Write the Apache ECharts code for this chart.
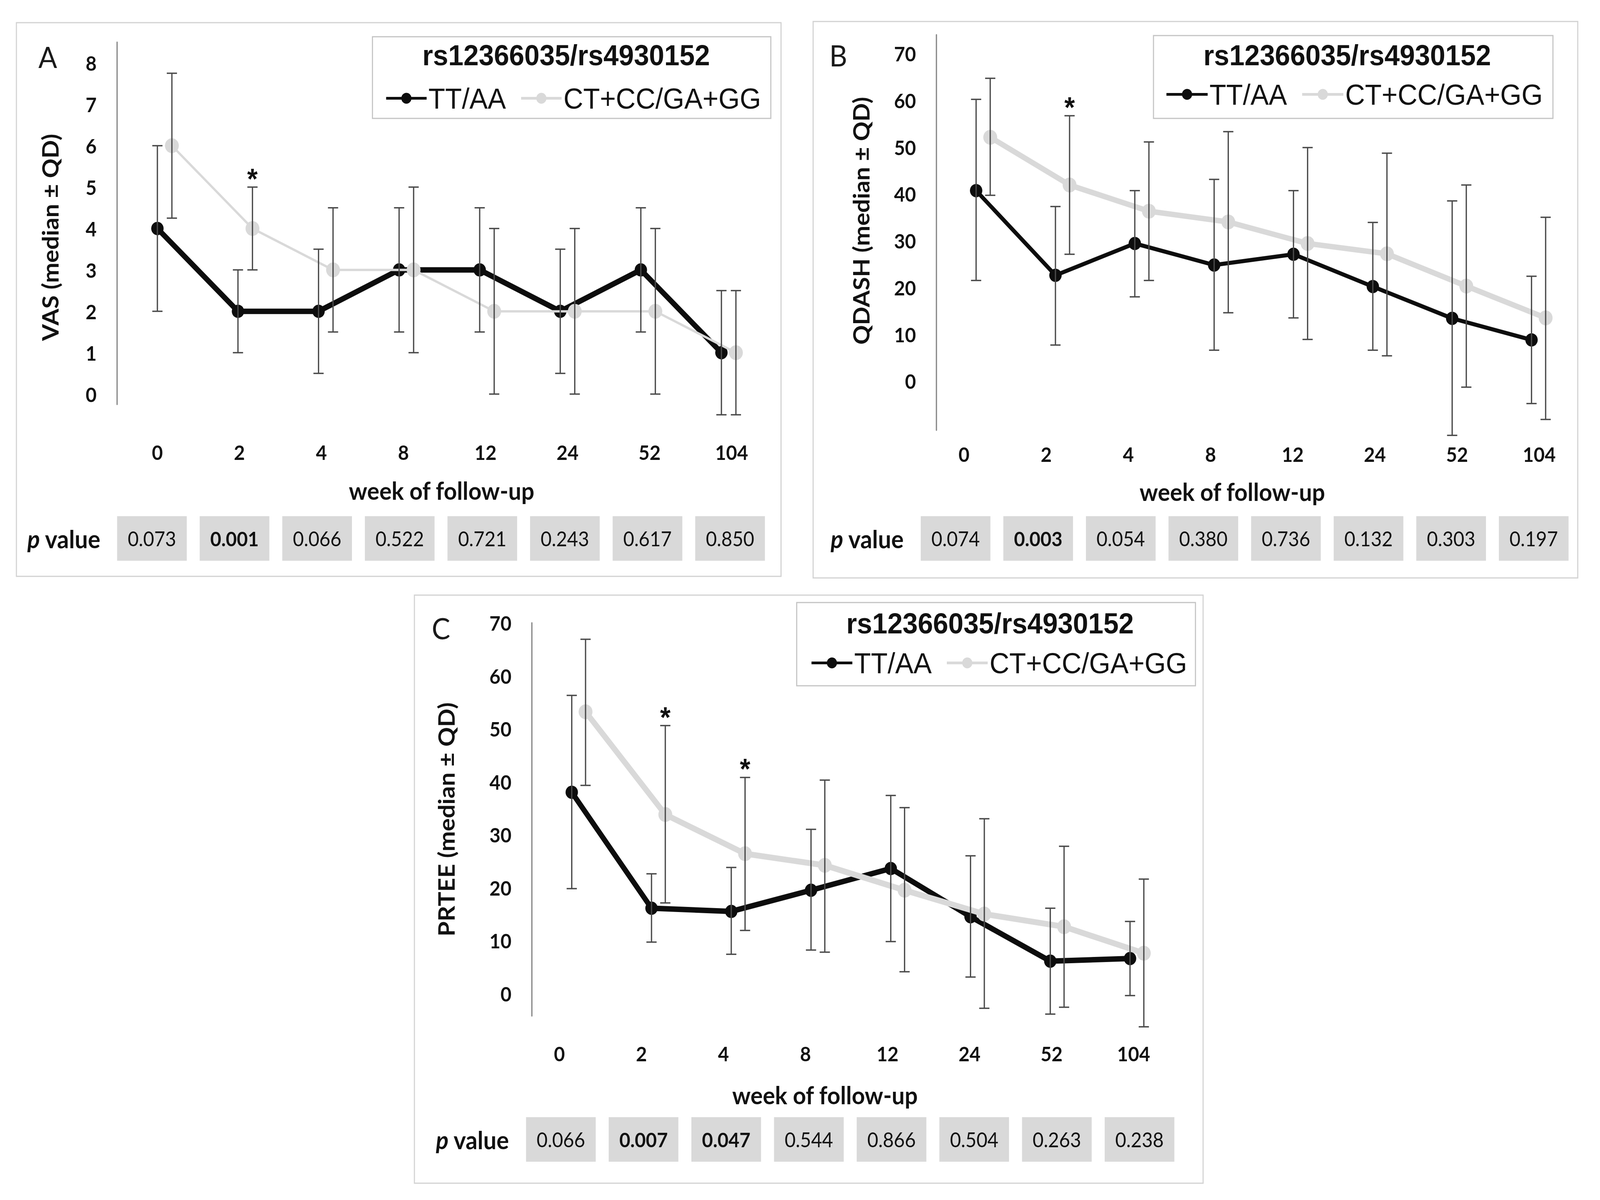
<!DOCTYPE html>
<html>
<head>
<meta charset="utf-8">
<script src="https://cdn.jsdelivr.net/npm/echarts@6/dist/echarts.min.js"></script>
<style>
html,body{margin:0;padding:0;background:#fff;overflow:hidden;}
#chart{width:4386px;height:3071px;transform-origin:0 0;}
</style>
</head>
<body>
<div id="chart"></div>
<script>
// ---------- data ----------
const weeks = ['0','2','4','8','12','24','52','104'];
const seriesNames = ['TT/AA','CT+CC/GA+GG'];
const legendTitle = 'rs12366035/rs4930152';

// A: VAS
const vasTT   = [4, 2, 2, 3, 3, 2, 3, 1];
const vasTTlo = [2, 1, 0.5, 1.5, 1.5, 0.5, 1.5, -0.5];
const vasTThi = [6, 3, 3.5, 4.5, 4.5, 3.5, 4.5, 2.5];
const vasCT   = [6, 4, 3, 3, 2, 2, 2, 1];
const vasCTlo = [4.25, 3, 1.5, 1, 0, 0, 0, -0.5];
const vasCThi = [7.75, 5, 4.5, 5, 4, 4, 4, 2.5];
const vasP    = ['0.073','0.001','0.066','0.522','0.721','0.243','0.617','0.850'];
const vasSig  = [1];
const vasStars = [1];
const vasTicks = [0,1,2,3,4,5,6,7,8];

// B: QDASH
const qdTT   = [40.7, 22.6, 29.4, 24.8, 27.1, 20.2, 13.4, 8.8];
const qdTTlo = [21.5, 7.7, 18.0, 6.6, 13.5, 6.6, -11.6, -4.8];
const qdTThi = [60.2, 37.3, 40.7, 43.1, 40.7, 33.9, 38.5, 22.4];
const qdCT   = [52.1, 41.9, 36.3, 34.0, 29.4, 27.2, 20.3, 13.5];
const qdCTlo = [39.7, 27.1, 21.5, 14.6, 8.9, 5.4, -1.3, -8.2];
const qdCThi = [64.7, 56.7, 51.1, 53.3, 49.9, 48.7, 41.9, 35.0];
const qdP    = ['0.074','0.003','0.054','0.380','0.736','0.132','0.303','0.197'];
const qdSig  = [1];
const qdStars = [1];
const qdTicks = [0,10,20,30,40,50,60,70];

// C: PRTEE
const prTT   = [38.0, 16.1, 15.5, 19.5, 23.6, 14.5, 6.1, 6.6];
const prTTlo = [19.8, 9.7, 7.4, 8.2, 9.8, 3.1, -3.9, -0.4];
const prTThi = [56.3, 22.6, 23.8, 31.0, 37.4, 26.0, 16.1, 13.6];
const prCT   = [53.2, 33.8, 26.4, 24.2, 19.5, 15.0, 12.6, 7.6];
const prCTlo = [39.3, 17.1, 11.9, 7.8, 4.1, -2.8, -2.6, -6.3];
const prCThi = [66.9, 50.6, 40.8, 40.3, 35.1, 33.0, 27.8, 21.6];
const prP    = ['0.066','0.007','0.047','0.544','0.866','0.504','0.263','0.238'];
const prSig  = [1, 2];
const prStars = [1, 2];
const prTicks = [0,10,20,30,40,50,60,70];

// ---------- layout (positions / styles only) ----------
const panels = [
  { letter:'A', yName:'VAS (median \u00b1 QD)',
    TT:vasTT, TTlo:vasTTlo, TThi:vasTThi, CT:vasCT, CTlo:vasCTlo, CThi:vasCThi,
    p:vasP, sig:vasSig, stars:vasStars, ticks:vasTicks,
    grid:{left:321, top:108, width:1767, height:927}, labelGrid:{left:319, width:1799},
    yMin:-0.25, yMax:8.5, yFine:0.25,
    off:0.18, blackW:14, grayW:6, xLabelMargin:96, xNameGap:188, xNamePad:[0,16,0,0],
    yNameGap:153, yNamePad:[0,72,0,0],
    frame:[45,58,2096,1417], letterPos:[131,145],
    legendBox:[1021,94,1092,209], legendTitlePos:[1552,141], legendLeft:1055, legendCY:252, itemW:111,
    pLabel:[175,1378], boxLeft:321, boxPitch:226.4, boxTop:1321 },
  { letter:'B', yName:'QDASH (median \u00b1 QD)',
    TT:qdTT, TTlo:qdTTlo, TThi:qdTThi, CT:qdCT, CTlo:qdCTlo, CThi:qdCThi,
    p:qdP, sig:qdSig, stars:qdStars, ticks:qdTicks,
    grid:{left:2567, top:89, width:1740, height:1012}, labelGrid:{left:2530, width:1802},
    yMin:-10.5, yMax:74, yFine:0.5,
    off:0.178, blackW:10.5, grayW:14, xLabelMargin:35, xNameGap:125, xNamePad:[0,106,0,0],
    yNameGap:176, yNamePad:[0,0,0,60],
    frame:[2229,55,2096,1424], letterPos:[2298,141],
    legendBox:[3162,91,1095,212], legendTitlePos:[3693,141], legendLeft:3194, legendCY:242, itemW:113,
    pLabel:[2377,1378], boxLeft:2524, boxPitch:226.4, boxTop:1321 },
  { letter:'C', yName:'PRTEE (median \u00b1 QD)',
    TT:prTT, TTlo:prTTlo, TThi:prTThi, CT:prCT, CTlo:prCTlo, CThi:prCThi,
    p:prP, sig:prSig, stars:prStars, ticks:prTicks,
    grid:{left:1458, top:1594, width:1749, height:1006}, labelGrid:{left:1421, width:1799},
    yMin:-4.25, yMax:70, yFine:0.25,
    off:0.173, blackW:14, grayW:15, xLabelMargin:70, xNameGap:170, xNamePad:[0,118,0,0],
    yNameGap:204, yNamePad:[0,0,0,0],
    frame:[1136,1523,2162,1505], letterPos:[1209,1607],
    legendBox:[2184,1542,1093,213], legendTitlePos:[2714,1595], legendLeft:2221, legendCY:1697, itemW:112,
    pLabel:[1295,2916], boxLeft:1442, boxPitch:226.6, boxTop:2859 }
];

const BLACK = '#0d0d0d', GRAY = '#d9d9d9', ERR = '#4a4a4a';
const FONT = 'Lato, "Open Sans", sans-serif';
const LEGFONT = '"Liberation Sans", Arial, sans-serif';
const boxW = 191, boxH = 114;

const grids = [], xAxes = [], yAxes = [], series = [], legends = [], graphics = [];

function errRender(color) {
  return function (params, api) {
    const x = api.value(0);
    const lo = api.coord([x, api.value(1)]);
    const hi = api.coord([x, api.value(2)]);
    const cw = 14;
    const st = { stroke: color, lineWidth: 3.5 };
    return { type:'group', children:[
      { type:'line', shape:{x1:lo[0], y1:lo[1], x2:hi[0], y2:hi[1]}, style:st },
      { type:'line', shape:{x1:lo[0]-cw, y1:lo[1], x2:lo[0]+cw, y2:lo[1]}, style:st },
      { type:'line', shape:{x1:hi[0]-cw, y1:hi[1], x2:hi[0]+cw, y2:hi[1]}, style:st }
    ]};
  };
}

panels.forEach(function (P, i) {
  const gData = grids.length;
  grids.push(Object.assign({containLabel:false}, P.grid));
  const gLab = grids.length;
  grids.push({ left:P.labelGrid.left, width:P.labelGrid.width, top:P.grid.top, height:P.grid.height, containLabel:false });

  // data axes
  const xi = xAxes.length;
  xAxes.push({
    gridIndex:gData, type:'value', min:-0.5, max:7.5, interval:0.5,
    axisLine:{show:false, onZero:false}, axisTick:{show:false}, splitLine:{show:false}, axisLabel:{show:false}
  });
  const yi = yAxes.length;
  yAxes.push({
    gridIndex:gData, type:'value', min:P.yMin, max:P.yMax, interval:P.yFine,
    axisLine:{show:true, onZero:false, lineStyle:{color:'#8a8a8a', width:3.5}}, axisTick:{show:false}, splitLine:{show:false},
    axisLabel:{ margin:56, color:'#111', fontFamily:FONT, fontWeight:'bold', fontSize:52,
      formatter:function(v){ const r=Math.round(v); return (Math.abs(v-r)<1e-6 && P.ticks.indexOf(r)>=0) ? String(r) : ''; } },
    name:P.yName, nameLocation:'middle', nameGap:P.yNameGap,
    nameTextStyle:{ color:'#111', fontFamily:FONT, fontWeight:'bold', fontSize:62, padding:P.yNamePad }
  });
  // week label axes (category, labels only)
  xAxes.push({
    gridIndex:gLab, type:'category', data:weeks, boundaryGap:true,
    axisLine:{show:false, onZero:false}, axisTick:{show:false}, splitLine:{show:false},
    axisLabel:{ margin:P.xLabelMargin, color:'#111', fontFamily:FONT, fontWeight:'bold', fontSize:52, interval:0 },
    name:'week of follow-up', nameLocation:'middle', nameGap:P.xNameGap,
    nameTextStyle:{ color:'#111', fontFamily:FONT, fontWeight:'bold', fontSize:63, padding:P.xNamePad }
  });
  yAxes.push({ gridIndex:gLab, type:'value', min:0, max:1, show:false });

  const blackData = P.TT.map(function(v,k){ return [k, v]; });
  const grayData  = P.CT.map(function(v,k){ return [k + P.off, v]; });
  series.push({
    name:seriesNames[0], type:'line', xAxisIndex:xi, yAxisIndex:yi, data:blackData, z:2,
    symbol:'circle', symbolSize:34, lineStyle:{color:BLACK, width:P.blackW}, itemStyle:{color:BLACK}
  });
  series.push({
    name:seriesNames[1], type:'line', xAxisIndex:xi, yAxisIndex:yi, data:grayData, z:3,
    symbol:'circle', symbolSize:38, lineStyle:{color:GRAY, width:P.grayW}, itemStyle:{color:GRAY}
  });
  series.push({
    type:'custom', xAxisIndex:xi, yAxisIndex:yi, z:4, clip:false, silent:true,
    data:P.TT.map(function(v,k){ return [k, P.TTlo[k], P.TThi[k]]; }),
    encode:{x:0, y:[1,2]}, renderItem:errRender(ERR)
  });
  series.push({
    type:'custom', xAxisIndex:xi, yAxisIndex:yi, z:4, clip:false, silent:true,
    data:P.CT.map(function(v,k){ return [k + P.off, P.CTlo[k], P.CThi[k]]; }),
    encode:{x:0, y:[1,2]}, renderItem:errRender(ERR)
  });
  series.push({
    type:'custom', xAxisIndex:xi, yAxisIndex:yi, z:5, clip:false, silent:true,
    data:P.stars.map(function(k){ return [k + P.off, P.CThi[k]]; }),
    encode:{x:0, y:1},
    renderItem:function(params, api){
      const c = api.coord([api.value(0), api.value(1)]);
      return { type:'text', x:c[0], y:c[1]-22,
        style:{ text:'*', fill:'#111', font:'bold 74px ' + LEGFONT, align:'center', verticalAlign:'middle' } };
    }
  });

  legends.push({
    data:seriesNames, left:P.legendLeft, top:P.legendCY - 38, padding:0, orient:'horizontal',
    itemWidth:P.itemW, itemHeight:35, itemGap:38, selectedMode:false,
    lineStyle:{width:7},
    textStyle:{ color:'#111', fontFamily:LEGFONT, fontSize:75 }
  });

  // frame
  graphics.push({ type:'rect', shape:{x:P.frame[0], y:P.frame[1], width:P.frame[2], height:P.frame[3]},
    style:{ fill:'none', stroke:'#d2d2d2', lineWidth:3 }, z:0 });
  // legend box
  graphics.push({ type:'rect', shape:{x:P.legendBox[0], y:P.legendBox[1], width:P.legendBox[2], height:P.legendBox[3]},
    style:{ fill:'none', stroke:'#c4c4c4', lineWidth:3 }, z:1 });
  graphics.push({ type:'text', x:P.legendTitlePos[0], y:P.legendTitlePos[1],
    style:{ text:legendTitle, fill:'#111', font:'bold 75px ' + LEGFONT, align:'center', verticalAlign:'middle' }, z:5 });
  // panel letter
  graphics.push({ type:'text', x:P.letterPos[0], y:P.letterPos[1],
    style:{ text:P.letter, fill:'#1a1a1a', font:'normal 76px ' + FONT, align:'center', verticalAlign:'middle' }, z:5 });
  // p value label
  graphics.push({ type:'text', x:P.pLabel[0], y:P.pLabel[1],
    style:{ text:'{i|p}{b|\u00a0value}', align:'center', verticalAlign:'middle',
      rich:{ i:{ fontFamily:FONT, fontWeight:'bold', fontStyle:'italic', fontSize:64, fill:'#111' },
             b:{ fontFamily:FONT, fontWeight:'bold', fontSize:64, fill:'#111' } } }, z:5 });
  // p value table
  P.p.forEach(function(txt, k){
    const bx = P.boxLeft + k * P.boxPitch;
    graphics.push({ type:'rect', shape:{x:bx, y:P.boxTop, width:boxW, height:boxH},
      style:{ fill:'#d9d9d9', stroke:'none' }, z:2 });
    graphics.push({ type:'text', x:bx + boxW/2, y:P.boxTop + boxH/2,
      style:{ text:txt, fill:'#111', font:(P.sig.indexOf(k)>=0 ? 'bold' : 'normal') + ' 52px ' + FONT,
        align:'center', verticalAlign:'middle' }, z:3 });
  });
});

// The browser viewport may be narrower than the 4386px design; squeeze to fit.
const el = document.getElementById('chart');
const sx = Math.min(1, (window.innerWidth || 4386) / 4386);
const sy = Math.min(1, (window.innerHeight || 3071) / 3071);
el.style.transform = 'scale(' + sx + ',' + sy + ')';

const chart = echarts.init(el, null, {renderer:'svg', width:4386, height:3071});
chart.setOption({
  animation:false,
  backgroundColor:'#ffffff',
  grid:grids, xAxis:xAxes, yAxis:yAxes, series:series, legend:legends, graphic:graphics
});
</script>
</body>
</html>
